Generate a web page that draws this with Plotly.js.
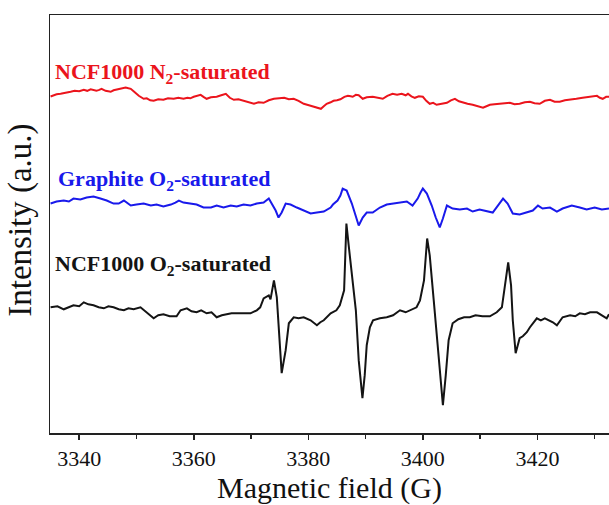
<!DOCTYPE html>
<html>
<head>
<meta charset="utf-8">
<script src="https://cdn.plot.ly/plotly-3.0.1.min.js"></script>
<style>html,body{margin:0;padding:0;background:#fff;overflow:hidden;}#chart{width:609px;height:505px;}</style>
</head>
<body>
<div id="chart"></div>
<script>
// Magnetic field (G) and intensity (a.u., arbitrary offset units)
const fieldN2 = [3335.0,3335.5,3336.05,3336.75,3337.4,3338.5,3339.2,3340.0,3340.8,3341.4,3342.0,3343.0,3343.5,3343.9,3344.6,3345.5,3346.0,3346.5,3347.2,3348.1,3348.6,3349.0,3349.6,3350.4,3351.25,3351.8,3352.4,3353.0,3353.8,3354.7,3355.5,3356.5,3357.3,3358.2,3358.9,3359.4,3360.0,3360.6,3361.2,3361.7,3362.25,3363.0,3364.0,3364.8,3365.6,3366.3,3367.0,3367.8,3368.7,3369.6,3370.5,3371.3,3372.2,3373.1,3374.0,3374.9,3375.8,3376.6,3377.45,3378.3,3379.2,3380.1,3380.95,3381.6,3382.2,3382.7,3383.2,3383.9,3384.4,3385.0,3385.6,3386.3,3386.9,3387.4,3387.75,3388.3,3388.8,3389.5,3390.2,3391.25,3392.2,3393.0,3393.8,3394.7,3395.5,3396.3,3397.0,3397.4,3398.0,3398.6,3399.3,3400.0,3400.6,3401.2,3401.8,3402.4,3403.3,3404.2,3404.9,3405.6,3406.3,3407.0,3407.8,3408.7,3409.6,3410.5,3411.1,3411.7,3412.5,3413.4,3414.3,3415.2,3416.0,3416.9,3417.8,3418.7,3419.5,3420.4,3421.3,3422.2,3423.0,3423.9,3424.8,3425.7,3426.8,3427.9,3429.1,3430.4,3430.9,3431.4,3432.0,3432.5];
const intensityN2 = [337.3,338.5,339.5,340,341,342,343,342.5,344,343,344.5,343,344,345,343,342,343.5,344,345,346.3,345.5,345,342,338,335,335.5,333.5,333,334.5,334,335.5,335,336,335,336,335.5,337,338,339,337,335,336.5,337,338.5,340,336,334,334.5,333,331.5,330,331.5,331,333.5,335,335.5,336,334.5,335,333,330,328.5,327,326,325,327.5,330,331.5,333,333.5,334.5,337,338,337.5,337,339,338.5,335,336.5,337,335.5,335,338,340,339,340,338.5,340,337.5,336,337.5,337,333,330,331,329,330,331,333.5,335,332.5,331,330,329,327.5,326,327.5,329,329.5,330,331,331,329.5,330,331.5,332,330.5,330,333,334,332,332,333.5,334,335,336,337,338,336,335,337,337];

const fieldGraphite = [3335.0,3336.05,3337.3,3338.2,3339.0,3340.2,3341.3,3342.5,3343.7,3344.8,3346.0,3346.9,3347.8,3349.0,3350.0,3351.25,3352.5,3353.5,3354.7,3356.0,3356.8,3357.4,3358.2,3359.5,3360.5,3361.7,3363.0,3364.0,3365.2,3366.45,3367.5,3368.7,3369.9,3371.0,3372.2,3373.1,3373.6,3374.3,3374.8,3375.35,3376.05,3376.9,3378.0,3379.2,3380.4,3381.5,3382.7,3383.9,3384.3,3385.1,3385.6,3386.0,3386.7,3387.6,3388.1,3388.8,3389.5,3390.2,3391.25,3392.5,3393.7,3394.7,3396.0,3397.2,3398.2,3399.1,3399.6,3400.0,3400.7,3401.55,3402.25,3402.95,3403.5,3404.2,3405.2,3406.45,3407.7,3408.7,3409.9,3411.2,3412.2,3413.1,3414.0,3414.8,3415.7,3416.9,3418.15,3419.2,3420.1,3420.9,3422.2,3423.4,3424.4,3426.0,3427.4,3428.6,3430.0,3431.25,3432.5];
const intensityGraphite = [230,232,233,232,235,234,236,237,235,233,230,230,233,228,229,230,228,229,227,229,231,233,231,230,229,226,226,228,226,228,227,229,228,230,231,235,230,223,216,221,230,229,226,223,220,221,222,226,229,233,238,245,243,230,220,208,216,221,221,226,229,230,231,232,228,235,241,245,240,228,216,206,215,228,225,224,225,222,224,222,221,228,235,230,220,219,221,223,228,225,226,222,225,228,226,224,226,224,225];

const fieldO2 = [3335.0,3336.2,3337.3,3338.2,3339.0,3340.0,3340.8,3341.6,3342.5,3343.4,3344.3,3345.1,3346.0,3346.9,3347.8,3348.6,3349.5,3350.7,3351.8,3353.0,3353.8,3354.7,3355.8,3357.0,3357.7,3358.8,3359.6,3360.5,3361.3,3362.25,3363.1,3364.0,3364.9,3365.75,3366.6,3367.5,3368.7,3369.9,3371.0,3371.6,3372.2,3373.1,3373.4,3374.0,3374.5,3375.0,3375.35,3376.05,3376.6,3377.45,3378.3,3379.2,3380.4,3381.5,3382.1,3382.7,3383.9,3384.9,3385.5,3386.25,3386.65,3387.05,3387.6,3388.3,3388.8,3389.45,3389.85,3390.2,3390.75,3391.3,3392.5,3393.7,3394.8,3396.0,3397.0,3398.0,3398.9,3399.5,3400.2,3400.75,3401.2,3401.9,3402.6,3403.5,3404.0,3404.5,3405.2,3406.2,3407.2,3408.2,3409.2,3410.4,3411.7,3412.9,3413.8,3414.3,3414.9,3415.4,3415.7,3416.2,3416.6,3416.9,3417.45,3418.15,3418.7,3419.9,3420.6,3421.3,3422.7,3423.4,3424.4,3425.7,3426.6,3427.4,3428.3,3429.2,3430.4,3431.4,3432.1,3432.5];
const intensityO2 = [126,127,124,126,128,127,131,129,128,126,125,127,126,124,123,125,124,126,121,115,118,119,117,117,123,125,122,121,123,120,121,116,118,119,120,120,120,120,123,126,135,138,134,153,136,96,60,83,110,116,115,116,113,108,111,113,120,123,128,143,210,188,158,123,73,35,58,88,106,113,115,116,118,123,121,124,126,133,153,195,178,133,83,28,58,93,110,114,116,116,118,117,117,121,126,148,171,148,113,80,88,95,97,101,106,115,113,115,111,108,116,118,117,120,119,121,121,117,115,119];

const xTickVals = [3340,3360,3380,3400,3420];
const labels = ['NCF1000 N<sub>2</sub>-saturated','Graphite O<sub>2</sub>-saturated','NCF1000 O<sub>2</sub>-saturated'];
const xTitle = 'Magnetic field (G)';
const yTitle = 'Intensity (a.u.)';

const serif = 'Liberation Serif';
const red = 'rgb(235,20,28)', blue = 'rgb(25,25,235)', black = 'rgb(20,20,20)';

const traces = [
  {x: fieldN2, y: intensityN2, mode: 'lines', line: {color: red, width: 2}, name: labels[0]},
  {x: fieldGraphite, y: intensityGraphite, mode: 'lines', line: {color: blue, width: 2}, name: labels[1]},
  {x: fieldO2, y: intensityO2, mode: 'lines', line: {color: black, width: 2}, name: labels[2]}
];

const layout = {
  width: 609, height: 505,
  margin: {l: 50, r: 0, t: 15, b: 72},
  paper_bgcolor: '#fff', plot_bgcolor: '#fff',
  showlegend: false,
  font: {family: serif},
  xaxis: {
    range: [3334.9, 3432.5],
    tickvals: xTickVals,
    ticks: 'outside', ticklen: 5, tickwidth: 1.5, tickcolor: '#222',
    minor: {dtick: 10, tick0: 3330, ticks: 'outside', ticklen: 4, tickwidth: 1.5, tickcolor: '#222'},
    showline: true, linecolor: '#222', linewidth: 1.5, mirror: true,
    showgrid: false, zeroline: false,
    tickfont: {family: serif, size: 22, color: '#111'}
  },
  yaxis: {
    range: [0, 419],
    showticklabels: false, ticks: '',
    showline: true, linecolor: '#222', linewidth: 1.5, mirror: false,
    showgrid: false, zeroline: false
  },
  annotations: [
    {text: xTitle, xref: 'paper', yref: 'paper', x: 0.5, y: -0.132, xanchor: 'center', yanchor: 'middle', showarrow: false, font: {family: serif, size: 30, color: '#111'}},
    {text: yTitle, xref: 'paper', yref: 'paper', x: -0.052, y: 0.51, xanchor: 'center', yanchor: 'middle', textangle: -90, showarrow: false, font: {family: serif, size: 33, color: '#111'}},
    {text: '<b>' + labels[0] + '</b>', xref: 'paper', yref: 'paper', x: 0.006, y: 0.861, xanchor: 'left', yanchor: 'middle', showarrow: false, font: {family: serif, size: 22, color: red}},
    {text: '<b>' + labels[1] + '</b>', xref: 'paper', yref: 'paper', x: 0.011, y: 0.605, xanchor: 'left', yanchor: 'middle', showarrow: false, font: {family: serif, size: 22, color: blue}},
    {text: '<b>' + labels[2] + '</b>', xref: 'paper', yref: 'paper', x: 0.005, y: 0.402, xanchor: 'left', yanchor: 'middle', showarrow: false, font: {family: serif, size: 22, color: black}}
  ]
};

Plotly.newPlot('chart', traces, layout, {displayModeBar: false, staticPlot: true});
</script>
</body>
</html>
